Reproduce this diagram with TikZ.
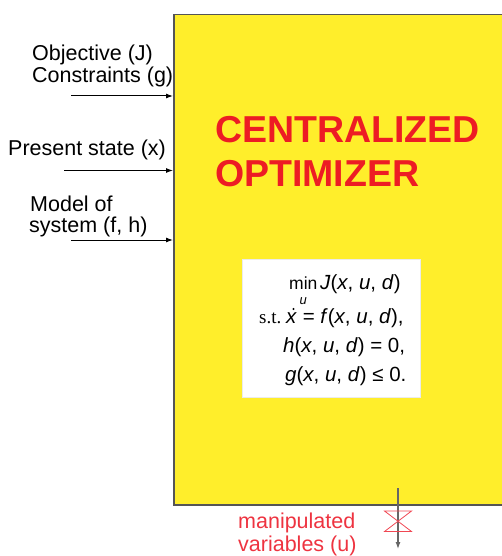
\documentclass[tikz,border=0pt]{standalone}
\usepackage{fontspec}
\setmainfont{Liberation Sans}
\newfontfamily\serifx{Liberation Serif}
\usetikzlibrary{arrows.meta}
\definecolor{boxyellow}{HTML}{FFEE2B}
\definecolor{titlered}{HTML}{ED1C24}
\definecolor{outred}{HTML}{EE3340}
\definecolor{edgegray}{HTML}{555555}
\newcommand\mv[1]{\textit{#1}}
\tikzset{
  lbl/.style={anchor=base west, inner sep=0pt, font=\fontsize{21.5}{25}\selectfont},
  ttl/.style={anchor=base west, inner sep=0pt, text=titlered, font=\fontsize{37.5}{42}\bfseries\selectfont},
  eqn/.style={anchor=base west, inner sep=0pt, font=\fontsize{20.5}{24}\selectfont},
  inarrow/.style={-{Latex[length=7pt,width=5pt]}, line width=1pt, black},
  outarrow/.style={-{Latex[length=7pt,width=5pt]}, line width=1.2pt, draw=black!60},
  valve/.style={draw=outred!90, line width=0.8pt},
}
\begin{document}
\begin{tikzpicture}[x=1pt,y=-1pt]
\useasboundingbox (0,0) rectangle (502,556);
% main box
\node[draw=edgegray, line width=1.5pt, fill=boxyellow, anchor=north west,
      minimum width=340pt, minimum height=490pt, inner sep=0pt] (opt) at (173,14) {};
% title
\node[ttl] (t1) at (215,143) {CENTRALIZED};
\node[ttl] (t2) at (215,186) {OPTIMIZER};
% formula box
\node[draw=black!8, fill=white, anchor=north west, minimum width=178pt,
      minimum height=138pt, inner sep=0pt] (form) at (242,259) {};
\node[anchor=base west, inner sep=0pt, font=\fontsize{17.5}{20}\selectfont] (e1) at (289,289)
  {\begin{tabular}[t]{@{}c@{}}min\\[-4.5pt]{\fontsize{13}{13}\selectfont\mv{u}}\end{tabular}};
\node[eqn] (e1b) at (320,289) {\mv{J}(\mv{x}, \mv{u}, \mv{d})};
\node[anchor=base west, inner sep=0pt, font=\serifx\fontsize{19}{22}\selectfont] (st) at (259,323) {s.t.};
\node[eqn] (e2) at (286,323) {\mv{x} = \mv{f}(\mv{x}, \mv{u}, \mv{d}),};
\fill (e2.base west) ++(7.5,-14) circle (1.2pt);
\node[eqn] (e3) at (283,352) {\mv{h}(\mv{x}, \mv{u}, \mv{d}) = 0,};
\node[eqn] (e4) at (285,381) {\mv{g}(\mv{x}, \mv{u}, \mv{d}) ≤ 0.};
% inputs
\node[lbl] (obj) at (32,61) {Objective (J)};
\node[lbl] (con) at (32,83) {Constraints (g)};
\node[lbl] (pst) at (8,156) {Present state (x)};
\node[lbl] (mod) at (30,211) {Model of};
\node[lbl] (sys) at (29,232) {system (f, h)};
\coordinate (a1) at (71,96);
\coordinate (a2) at (64,170.5);
\coordinate (a3) at (71,240);
\draw[inarrow] (a1) -- (a1 -| opt.west);
\draw[inarrow] (a2) -- (a2 -| opt.west);
\draw[inarrow] (a3) -- (a3 -| opt.west);
% output
\coordinate (o1) at (398,488);
\coordinate (o2) at (398,549);
\draw[outarrow] (o1) -- (o2);
\coordinate (v1) at (384.5,511);
\coordinate (v2) at (411.5,511);
\coordinate (v3) at (384.5,531.5);
\coordinate (v4) at (411.5,531.5);
\draw[valve] (v1) -- (v2) -- (v3) -- (v4) -- cycle;
\node[lbl, text=outred] (man) at (238,528) {manipulated};
\node[lbl, text=outred] (var) at (238,551) {variables (u)};
\end{tikzpicture}
\end{document}
